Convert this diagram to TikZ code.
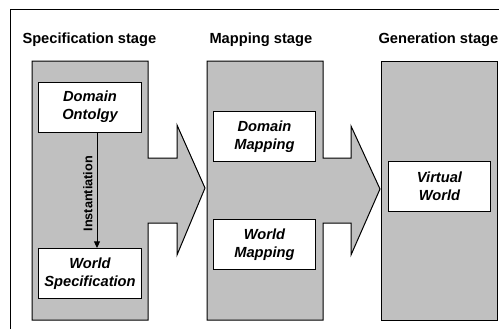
\documentclass[tikz,border=0pt]{standalone}
\usepackage{fontspec}
\setmainfont{Liberation Sans}
\usetikzlibrary{arrows.meta}
\definecolor{stagegray}{RGB}{192,192,192}
\tikzset{every picture/.style={line width=0.75pt}}
\tikzset{
  stagebox/.style={draw=black, fill=stagegray},
  itembox/.style={draw=black, fill=white, minimum width=77pt, minimum height=37.5pt, align=center, inner sep=0.75pt, font=\bfseries\itshape\fontsize{11}{13.5}\selectfont},
  stagetitle/.style={anchor=base west, inner sep=0.75pt, font=\bfseries\fontsize{11}{13}\selectfont}
}

\begin{document}
\begin{tikzpicture}[x=0.75pt,y=0.75pt,yscale=-1,xscale=1]
		\path[use as bounding box] (0,0) rectangle (499,329);

		%Shape: Frame
		\draw (10,329) -- (10,9) -- (499,9) ;
		%Shape: Specification stage arrow
		\draw[stagebox] (32,61) -- (148,61) -- (148,158) -- (177,158) -- (177,125) -- (205,188) -- (177,255) -- (177,223) -- (148,223) -- (148,320) -- (32,320) -- cycle ;
		%Shape: Mapping stage arrow
		\draw[stagebox] (207,61) -- (323,61) -- (323,158) -- (351,158) -- (351,126) -- (380,189) -- (351,255) -- (351,223) -- (323,223) -- (323,320) -- (207,320) -- cycle ;
		%Shape: Generation stage rectangle
		\draw[stagebox] (381,61) -- (497,61) -- (497,320) -- (381,320) -- cycle ;

		% Text Node
		\node[stagetitle] (spectitle) at (21,43) {Specification stage};
		% Text Node
		\node[stagetitle] (maptitle) at (208,43) {Mapping stage};
		% Text Node
		\node[stagetitle] (gentitle) at (377,43) {Generation stage};

		% Box Nodes
		\node[itembox] (ontology) at (90,107) {Domain\\Ontolgy};
		\node[itembox] (worldspec) at (90,273.5) {World\\Specification};
		\node[itembox] (dommap) at (264.5,136.5) {Domain\\Mapping};
		\node[itembox] (worldmap) at (264.5,244.5) {World\\Mapping};
		\node[itembox] (virtual) at (439.5,186.5) {Virtual\\World};

		% Instantiation arrow
		\draw[-{Triangle[length=5pt,width=4.5pt]}] ([xshift=5.25pt]ontology.south) -- node[pos=0.53, rotate=90, anchor=south, inner sep=3pt, font=\bfseries\fontsize{9.5}{11}\selectfont] (inst) {Instantiation} ([xshift=5.25pt]worldspec.north) ;

\end{tikzpicture}
\end{document}
